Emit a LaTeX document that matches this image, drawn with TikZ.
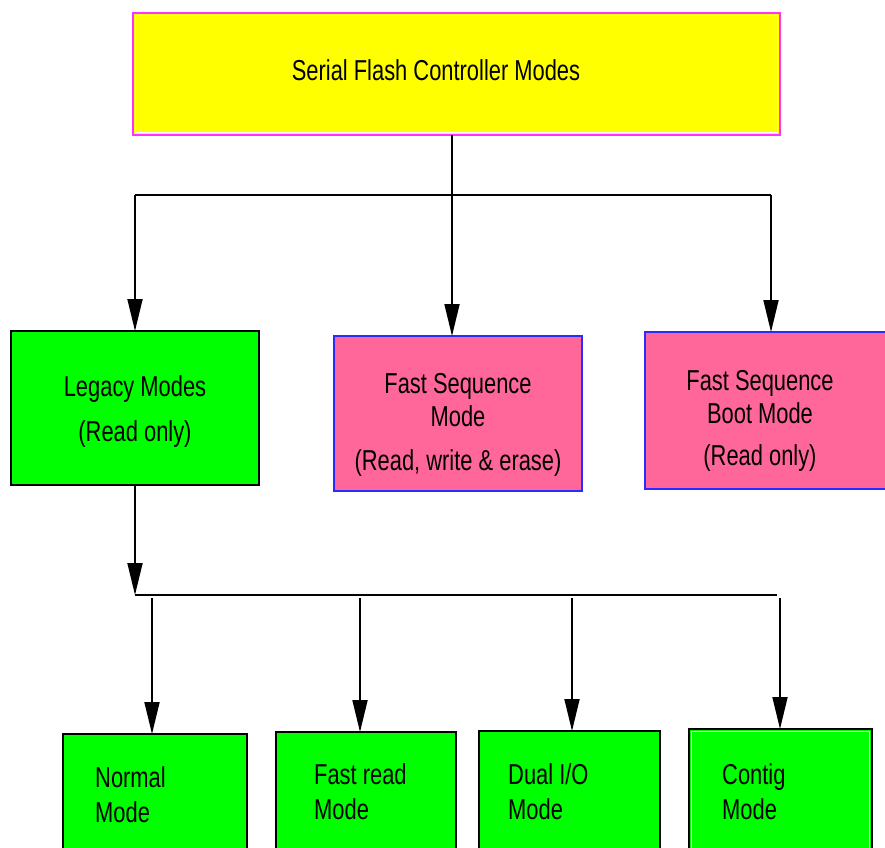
\documentclass[tikz,border=0pt]{standalone}
\usepackage{fontspec}
\setmainfont[FakeStretch=0.76]{Liberation Sans}
\usetikzlibrary{arrows.meta}
\definecolor{boxyellow}{HTML}{FFFF00}
\definecolor{boxmagenta}{HTML}{FF33FF}
\definecolor{boxgreen}{HTML}{00FF00}
\definecolor{boxpink}{HTML}{FF6699}
\definecolor{boxblue}{HTML}{2B2BFF}

\begin{document}
\begin{tikzpicture}[x=1pt, y=-1pt,
  box/.style={rectangle, draw=black, line width=1.7pt, inner sep=0pt, outer sep=0pt},
  greenbox/.style={box, fill=boxgreen},
  pinkbox/.style={box, fill=boxpink, draw=boxblue},
  lbl/.style={font=\fontsize{28.8}{33}\selectfont, align=center, inner sep=0pt},
  lbll/.style={font=\fontsize{28.8}{35}\selectfont, align=left, inner sep=0pt, anchor=west},
  wire/.style={line width=1.8pt, black},
  arr/.style={wire, -{Triangle[length=32pt, width=15pt]}},
  innerline/.style={white, line width=1pt}
]
\useasboundingbox (0,0) rectangle (885,847);
\clip (0,0) rectangle (885,847);

% root box
\node[box, fill=boxyellow, draw=boxmagenta, minimum width=647pt, minimum height=122pt] (top) at (456.5,74) {};
\draw[innerline] ([shift={(2.5pt,-2.5pt)}]top.north west) rectangle ([shift={(-2.5pt,2.5pt)}]top.south east);
\node[lbl] (toptext) at (436,70) {Serial Flash Controller Modes};

% second row
\node[greenbox, minimum width=248pt, minimum height=154pt] (legacy) at (135,408) {};
\node[lbl] (legacytext) at (135,412) {Legacy Modes\\[12pt](Read only)};

\node[pinkbox, minimum width=248pt, minimum height=155pt] (fsm) at (458,413.5) {};
\node[lbl] (fsmtext) at (458,425) {Fast Sequence\\Mode\\[11pt](Read, write \& erase)};

\node[pinkbox, minimum width=250pt, minimum height=157pt] (boot) at (770,410.5) {};
\node[lbl] (boottext) at (760,421) {Fast Sequence\\Boot Mode\\[9pt](Read only)};

% third row
\node[greenbox, minimum width=184pt, minimum height=160pt] (normal) at (155,814) {};
\node[lbll] (normaltext) at (95,795) {Normal\\Mode};

\node[greenbox, minimum width=180pt, minimum height=160pt] (fastread) at (366,812) {};
\node[lbll] (fastreadtext) at (314,792) {Fast read\\Mode};

\node[greenbox, minimum width=181pt, minimum height=160pt] (dual) at (569.5,811) {};
\node[lbll] (dualtext) at (508,792) {Dual I/O\\Mode};

\node[greenbox, minimum width=183pt, minimum height=160pt] (contig) at (780.5,809) {};
\draw[innerline] ([shift={(2.5pt,-2.5pt)}]contig.north west) rectangle ([shift={(-2.5pt,2.5pt)}]contig.south east);
\node[lbll] (contigtext) at (722,792) {Contig\\Mode};

% upper distribution bus
\coordinate (busL) at (135,195);
\coordinate (busM) at (452,195);
\coordinate (busR) at (771,195);
\draw[wire] (top.south -| busM) -- (busM);
\draw[wire] (busL) -- (busR);
\draw[arr] (busL) -- (legacy.north -| busL);
\draw[arr] (busM) -- (fsm.north -| busM);
\draw[arr] (busR) -- (boot.north -| busR);

% lower distribution bus
\coordinate (bus2L) at (135,595);
\coordinate (bus2R) at (777,595);
\draw[arr] (legacy.south) -- (bus2L);
\draw[wire] (bus2L) -- (bus2R);

\coordinate (d1) at (152,598);
\coordinate (d2) at (360,598);
\coordinate (d3) at (572,598);
\coordinate (d4) at (780,598);
\draw[arr] (d1) -- (normal.north -| d1);
\draw[arr] (d2) -- (fastread.north -| d2);
\draw[arr] (d3) -- (dual.north -| d3);
\draw[arr] (d4) -- (contig.north -| d4);
\end{tikzpicture}
\end{document}
